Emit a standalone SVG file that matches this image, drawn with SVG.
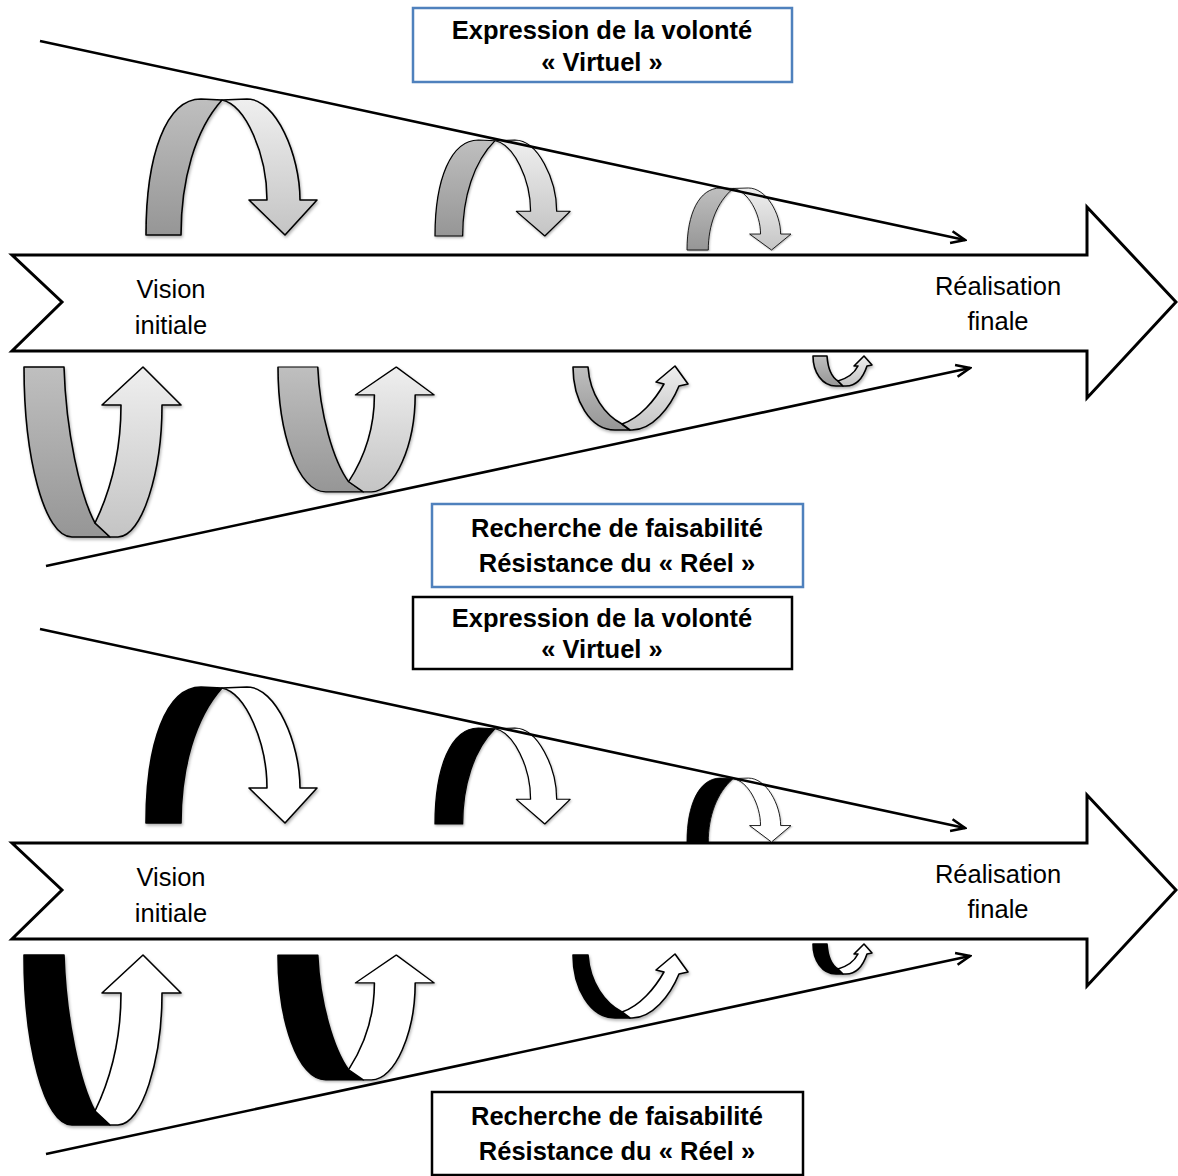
<svg xmlns="http://www.w3.org/2000/svg" xmlns:xlink="http://www.w3.org/1999/xlink" width="1178" height="1176" viewBox="0 0 1178 1176">
<style>
.big{fill:#fff;stroke:#000;stroke-width:3;stroke-linejoin:miter}
.rib{stroke:#000;stroke-width:1.6;stroke-linejoin:round;vector-effect:non-scaling-stroke}
.gd{fill:url(#gDark)}
.gl{fill:url(#gLight)}
.bd{fill:#000}
.bl{fill:#fff}
.boxb{fill:#fff;stroke:#4f81bd;stroke-width:2.5}
.boxk{fill:#fff;stroke:#000;stroke-width:2.5}
.t{font-family:"Liberation Sans",Arial,sans-serif;font-size:25.5px;text-anchor:middle;fill:#000}
.tb{font-family:"Liberation Sans",Arial,sans-serif;font-size:25.5px;font-weight:bold;text-anchor:middle;fill:#000}
.ln{stroke:#000;stroke-width:2.6;fill:none;marker-end:url(#ah)}
</style>
<defs>
<linearGradient id="gDark" x1="0" y1="0" x2="0" y2="1"><stop offset="0" stop-color="#bfbfbf"/><stop offset="1" stop-color="#969696"/></linearGradient>
<linearGradient id="gLight" x1="0" y1="0" x2="0" y2="1"><stop offset="0" stop-color="#efefef"/><stop offset="1" stop-color="#c4c4c4"/></linearGradient>
<filter id="sh" x="-10%" y="-10%" width="130%" height="130%"><feDropShadow dx="1" dy="2" stdDeviation="1.5" flood-opacity="0.3"/></filter>
<marker id="ah" viewBox="0 0 18 16" refX="16" refY="8" markerWidth="18" markerHeight="16" markerUnits="userSpaceOnUse" orient="auto"><path d="M2,2 L16,8 L2,14" fill="none" stroke="#000" stroke-width="2.6"/></marker>
<path id="arcD" d="M0,0 C0,-80 20,-136 55,-136 L76,-135 C49,-105 35,-55 35,0 Z"/>
<path id="arcL" d="M76,-135 L101,-136 C130,-136 154,-80 154,-35 L171,-35 L139,0 L103,-35 L121,-35 C121,-80 100,-130 76,-135 Z"/>
<path id="uD" d="M0,0 L40,0 C42,65 56,128 71,156 L86,170 L48,170 C20,170 0,90 0,0 Z"/>
<path id="uL" d="M71,156 C86,125 97,85 97,38 L78,38 L119,0 L157,38 L138,38 C138,105 118,170 94,170 L86,170 Z"/>
<path id="u3D" d="M573,367 L588,367 C590,395 605,415 622,424 L630,430 L615,430 C590,430 573,400 573,367 Z"/>
<path id="u3L" d="M622,424 C640,418 655,400 664,384 L656,382 L675,366 L688,384 L679,386 C670,408 652,430 632,430 L630,430 Z"/>
<path id="u4D" d="M813,356 L827,356 C828,370 833,378 838,381 L843,386 L836,386 C822,386 813,372 813,356 Z"/>
<path id="u4L" d="M838,381 C848,378 855,372 858,366 L854,366 L864,356 L872,365 L867,366 C863,378 856,386 846,386 L843,386 Z"/>
</defs>
<rect width="1178" height="1176" fill="#fff"/>

<!-- TOP HALF -->
<g id="main-arrow-top"><path class="big" d="M12,255 L1087,255 L1087,207 L1176,302 L1087,398 L1087,351 L12,351 L62,302 Z"/></g>
<g id="box-virtuel-top"><rect class="boxb" x="413" y="8" width="379" height="74"/><text class="tb" x="602" y="39">Expression de la volonté</text><text class="tb" x="602" y="71">« Virtuel »</text></g>
<g id="box-reel-top"><rect class="boxb" x="432" y="504" width="371" height="83"/><text class="tb" x="617" y="537">Recherche de faisabilité</text><text class="tb" x="617" y="572">Résistance du « Réel »</text></g>
<g id="label-vision-top"><text class="t" x="171" y="298">Vision</text><text class="t" x="171" y="334">initiale</text></g>
<g id="label-real-top"><text class="t" x="998" y="295">Réalisation</text><text class="t" x="998" y="330">finale</text></g>
<g id="arc1-top" filter="url(#sh)" transform="translate(146,235)"><use href="#arcD" class="rib gd"/><use href="#arcL" class="rib gl"/></g>
<g id="arc2-top" filter="url(#sh)" transform="translate(435,236) scale(0.79,0.706)"><use href="#arcD" class="rib gd"/><use href="#arcL" class="rib gl"/></g>
<g id="arc3-top" filter="url(#sh)" transform="translate(687,250) scale(0.608,0.456)"><use href="#arcD" class="rib gd"/><use href="#arcL" class="rib gl"/></g>
<g id="u1-top" filter="url(#sh)" transform="translate(24,367)"><use href="#uD" class="rib gd"/><use href="#uL" class="rib gl"/></g>
<g id="u2-top" filter="url(#sh)" transform="translate(278,367) scale(0.994,0.735)"><use href="#uD" class="rib gd"/><use href="#uL" class="rib gl"/></g>
<g id="u3-top" filter="url(#sh)"><use href="#u3D" class="rib gd"/><use href="#u3L" class="rib gl"/></g>
<g id="u4-top" filter="url(#sh)"><use href="#u4D" class="rib gd"/><use href="#u4L" class="rib gl"/></g>

<!-- BOTTOM HALF -->
<g id="main-arrow-bottom"><path class="big" d="M12,843 L1087,843 L1087,795 L1176,890 L1087,986 L1087,939 L12,939 L62,890 Z"/></g>
<g id="box-virtuel-bottom"><rect class="boxk" x="413" y="597" width="379" height="72"/><text class="tb" x="602" y="627">Expression de la volonté</text><text class="tb" x="602" y="658">« Virtuel »</text></g>
<g id="box-reel-bottom"><rect class="boxk" x="432" y="1092" width="371" height="83"/><text class="tb" x="617" y="1125">Recherche de faisabilité</text><text class="tb" x="617" y="1160">Résistance du « Réel »</text></g>
<g id="label-vision-bottom"><text class="t" x="171" y="886">Vision</text><text class="t" x="171" y="922">initiale</text></g>
<g id="label-real-bottom"><text class="t" x="998" y="883">Réalisation</text><text class="t" x="998" y="918">finale</text></g>
<g id="arc1-bottom" filter="url(#sh)" transform="translate(146,823)"><use href="#arcD" class="rib bd"/><use href="#arcL" class="rib bl"/></g>
<g id="arc2-bottom" filter="url(#sh)" transform="translate(435,824) scale(0.79,0.706)"><use href="#arcD" class="rib bd"/><use href="#arcL" class="rib bl"/></g>
<g id="arc3-bottom" filter="url(#sh)" transform="translate(687,842) scale(0.608,0.47)"><use href="#arcD" class="rib bd"/><use href="#arcL" class="rib bl"/></g>
<g id="u1-bottom" filter="url(#sh)" transform="translate(24,955)"><use href="#uD" class="rib bd"/><use href="#uL" class="rib bl"/></g>
<g id="u2-bottom" filter="url(#sh)" transform="translate(278,955) scale(0.994,0.735)"><use href="#uD" class="rib bd"/><use href="#uL" class="rib bl"/></g>
<g id="u3-bottom" filter="url(#sh)" transform="translate(0,588)"><use href="#u3D" class="rib bd"/><use href="#u3L" class="rib bl"/></g>
<g id="u4-bottom" filter="url(#sh)" transform="translate(0,588)"><use href="#u4D" class="rib bd"/><use href="#u4L" class="rib bl"/></g>

<g id="connectors">
<line class="ln" x1="40" y1="41" x2="965" y2="240"/>
<line class="ln" x1="46" y1="566" x2="970" y2="368"/>
<line class="ln" x1="40" y1="629" x2="965" y2="828"/>
<line class="ln" x1="46" y1="1154" x2="970" y2="956"/>
</g>
</svg>
